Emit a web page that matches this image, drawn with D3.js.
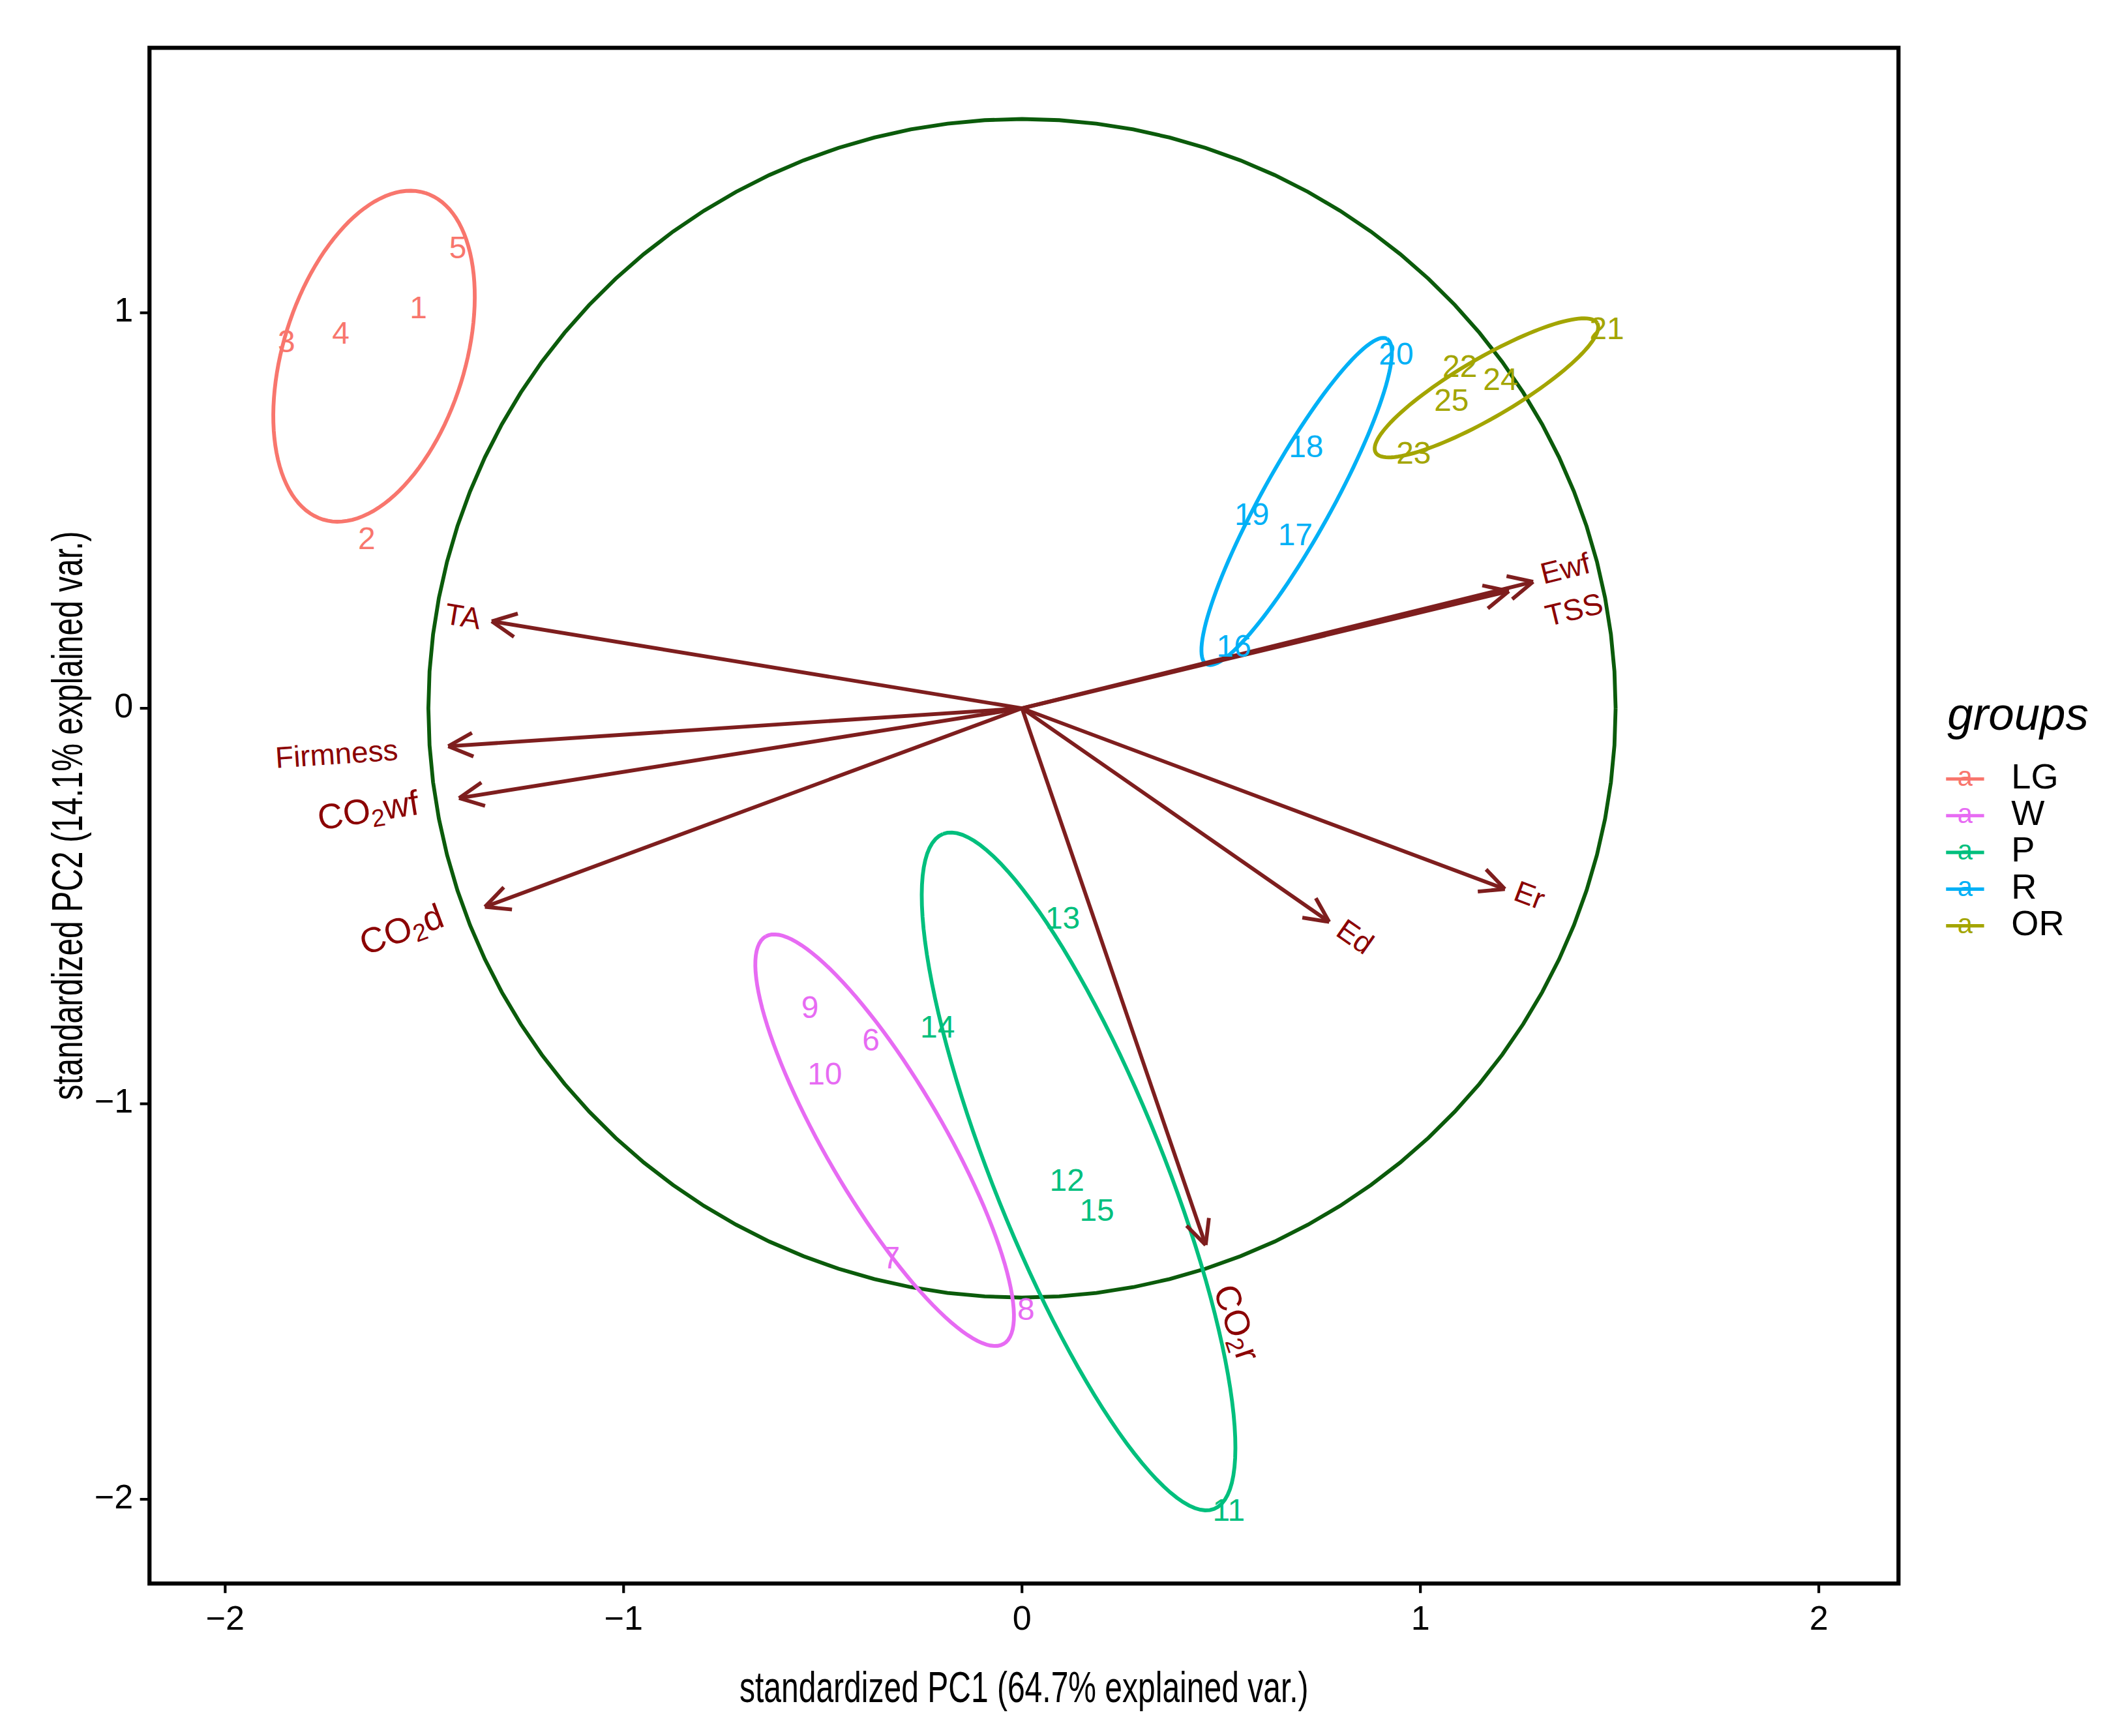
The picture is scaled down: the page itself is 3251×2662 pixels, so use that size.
<!DOCTYPE html>
<html><head><meta charset="utf-8">
<script src="https://cdn.jsdelivr.net/npm/d3@7"></script>
<style>body{margin:0;background:#fff}</style></head>
<body><svg id="c" width="3251" height="2662" viewBox="0 0 1560 1277"></svg>
<script>
const groups=["LG","W","P","R","OR"];
const colors=["#F8766D","#E76BF3","#00BF7D","#00B0F6","#A3A500"];
const obsId=[1,2,3,4,5,6,7,8,9,10,11,12,13,14,15,16,17,18,19,20,21,22,23,24,25];
const obsGroup=["LG","LG","LG","LG","LG","W","W","W","W","W","P","P","P","P","P","R","R","R","R","R","OR","OR","OR","OR","OR"];
const pc1=[-1.515,-1.645,-1.846,-1.71,-1.416,-0.379,-0.328,0.01,-0.532,-0.495,0.519,0.113,0.102,-0.212,0.188,0.532,0.686,0.713,0.577,0.939,1.468,1.099,0.983,1.201,1.078];
const pc2=[1.007,0.423,0.921,0.942,1.158,-0.845,-1.395,-1.526,-0.763,-0.931,-2.034,-1.199,-0.536,-0.811,-1.275,0.151,0.433,0.656,0.485,0.89,0.955,0.859,0.639,0.825,0.773];
const vars=["TA","Firmness","CO2wf","CO2d","Ewf","TSS","Er","Ed","CO2r"];
const varX=[-1.331,-1.44,-1.413,-1.348,1.283,1.222,1.212,0.771,0.461];
const varY=[0.22,-0.096,-0.227,-0.502,0.32,0.296,-0.457,-0.54,-1.357];
const labX=[-1.404,-1.72,-1.64,-1.555,1.365,1.387,1.272,0.833,0.533];
const labY=[0.227,-0.121,-0.265,-0.566,0.348,0.244,-0.478,-0.582,-1.556];
const circleR=1.49;
const xTicks=[-2,-1,0,1,2], yTicks=[-2,-1,0,1];

const svg=d3.select("#c");
const L=110,R=1397,T=35,B=1165;
const x=d3.scaleLinear().domain([-2.19,2.2]).range([L,R]);
const y=d3.scaleLinear().domain([1.67,-2.213]).range([T,B]);
const g=svg.append("g");
const cpts=d3.range(0,101).map(i=>{const a=i/100*2*Math.PI;return [x(circleR*Math.cos(a)),y(circleR*Math.sin(a))]});
g.append("path").attr("d",d3.line()(cpts)).attr("fill","none").attr("stroke","#0B5B0B").attr("stroke-width",2.8);
const rad=Math.sqrt(-2*Math.log(1-0.68));
groups.forEach((gr,gi)=>{
  const idx=obsGroup.map((v,i)=>v===gr?i:-1).filter(i=>i>=0);
  const xs=idx.map(i=>pc1[i]),ys=idx.map(i=>pc2[i]);
  const mx=d3.mean(xs),my=d3.mean(ys),n=xs.length;
  let sxx=0,syy=0,sxy=0;
  xs.forEach((v,k)=>{sxx+=(v-mx)**2;syy+=(ys[k]-my)**2;sxy+=(v-mx)*(ys[k]-my)});
  sxx/=n-1;syy/=n-1;sxy/=n-1;
  const tr=sxx+syy,det=sxx*syy-sxy*sxy,d=Math.sqrt(tr*tr/4-det);
  const l1=tr/2+d,l2=tr/2-d;const th=Math.atan2(l1-sxx,sxy);
  const pts=d3.range(0,121).map(i=>{const a=i/120*2*Math.PI;
    const u=rad*Math.sqrt(l1)*Math.cos(a),v=rad*Math.sqrt(Math.max(l2,0))*Math.sin(a);
    return [x(mx+u*Math.cos(th)-v*Math.sin(th)),y(my+u*Math.sin(th)+v*Math.cos(th))]});
  g.append("path").attr("d",d3.line()(pts)).attr("fill","none").attr("stroke",colors[gi]).attr("stroke-width",2.8);
});
const ac="#7E1E1E";
vars.forEach((v,i)=>{
  const x1=x(varX[i]),y1=y(varY[i]),x0=x(0),y0=y(0);
  g.append("line").attr("x1",x0).attr("y1",y0).attr("x2",x1).attr("y2",y1).attr("stroke",ac).attr("stroke-width",2.8);
  const ang=Math.atan2(y1-y0,x1-x0),h=20;
  [0.45,-0.45].forEach(da=>g.append("line").attr("x1",x1).attr("y1",y1)
    .attr("x2",x1-h*Math.cos(ang+da)).attr("y2",y1-h*Math.sin(ang+da)).attr("stroke",ac).attr("stroke-width",2.8));
  const deg=Math.atan(varY[i]/varX[i])*180/Math.PI;
  const t=g.append("text").attr("transform",`translate(${x(labX[i])},${y(labY[i])}) rotate(${-deg})`)
    .attr("text-anchor","middle").attr("dominant-baseline","middle").attr("fill","#8B0000")
    .attr("font-family","Liberation Sans, Arial").attr("font-size",v.startsWith("CO2")?26:22);
  if(v.startsWith("CO2")){t.append("tspan").text("CO");t.append("tspan").attr("dy",6).attr("font-size",18).text("2");t.append("tspan").attr("dy",-6).text(v.slice(3));}
  else t.text(v);
});
obsId.forEach((id,i)=>{
  g.append("text").attr("x",x(pc1[i])).attr("y",y(pc2[i])).attr("text-anchor","middle").attr("dominant-baseline","middle")
   .attr("fill",colors[groups.indexOf(obsGroup[i])]).attr("font-family","Liberation Sans, Arial").attr("font-size",23).text(id);
});
svg.append("rect").attr("x",L).attr("y",T).attr("width",R-L).attr("height",B-T).attr("fill","none").attr("stroke","#000").attr("stroke-width",3);
xTicks.forEach(t=>{svg.append("line").attr("x1",x(t)).attr("x2",x(t)).attr("y1",B).attr("y2",B+7).attr("stroke","#000").attr("stroke-width",2);
  svg.append("text").attr("x",x(t)).attr("y",B+34).attr("text-anchor","middle").attr("font-family","Liberation Sans, Arial").attr("font-size",25).text(t<0?"\u2212"+(-t):t);});
yTicks.forEach(t=>{svg.append("line").attr("x1",L-7).attr("x2",L).attr("y1",y(t)).attr("y2",y(t)).attr("stroke","#000").attr("stroke-width",2);
  svg.append("text").attr("x",L-12).attr("y",y(t)).attr("text-anchor","end").attr("dominant-baseline","middle").attr("font-family","Liberation Sans, Arial").attr("font-size",25).text(t<0?"\u2212"+(-t):t);});
svg.append("text").attr("x",(L+R)/2).attr("y",1252).attr("text-anchor","middle").attr("font-family","Liberation Sans Narrow, Liberation Sans, Arial").attr("font-size",32)
  .attr("transform",`translate(${(L+R)/2},0) scale(0.72,1) translate(${-(L+R)/2},0)`).text("standardized PC1 (64.7% explained var.)");
svg.append("text").attr("transform",`translate(52,${(T+B)/2}) rotate(-90) scale(0.72,1)`).attr("text-anchor","middle").attr("dominant-baseline","middle")
  .attr("font-family","Liberation Sans Narrow, Liberation Sans, Arial").attr("font-size",32).text("standardized PC2 (14.1% explained var.)");
svg.append("text").attr("x",1433).attr("y",537).attr("font-family","Liberation Sans, Arial").attr("font-style","italic").attr("font-size",34).text("groups");
groups.forEach((gr,i)=>{const yy=573+i*27;
  svg.append("line").attr("x1",1432).attr("x2",1460).attr("y1",yy).attr("y2",yy).attr("stroke",colors[i]).attr("stroke-width",2.5);
  svg.append("text").attr("x",1446).attr("y",yy).attr("text-anchor","middle").attr("dominant-baseline","middle").attr("fill",colors[i]).attr("font-family","Liberation Sans, Arial").attr("font-size",20).text("a");
  svg.append("text").attr("x",1480).attr("y",yy).attr("dominant-baseline","middle").attr("font-family","Liberation Sans, Arial").attr("font-size",26).text(gr);
});
</script></body></html>
